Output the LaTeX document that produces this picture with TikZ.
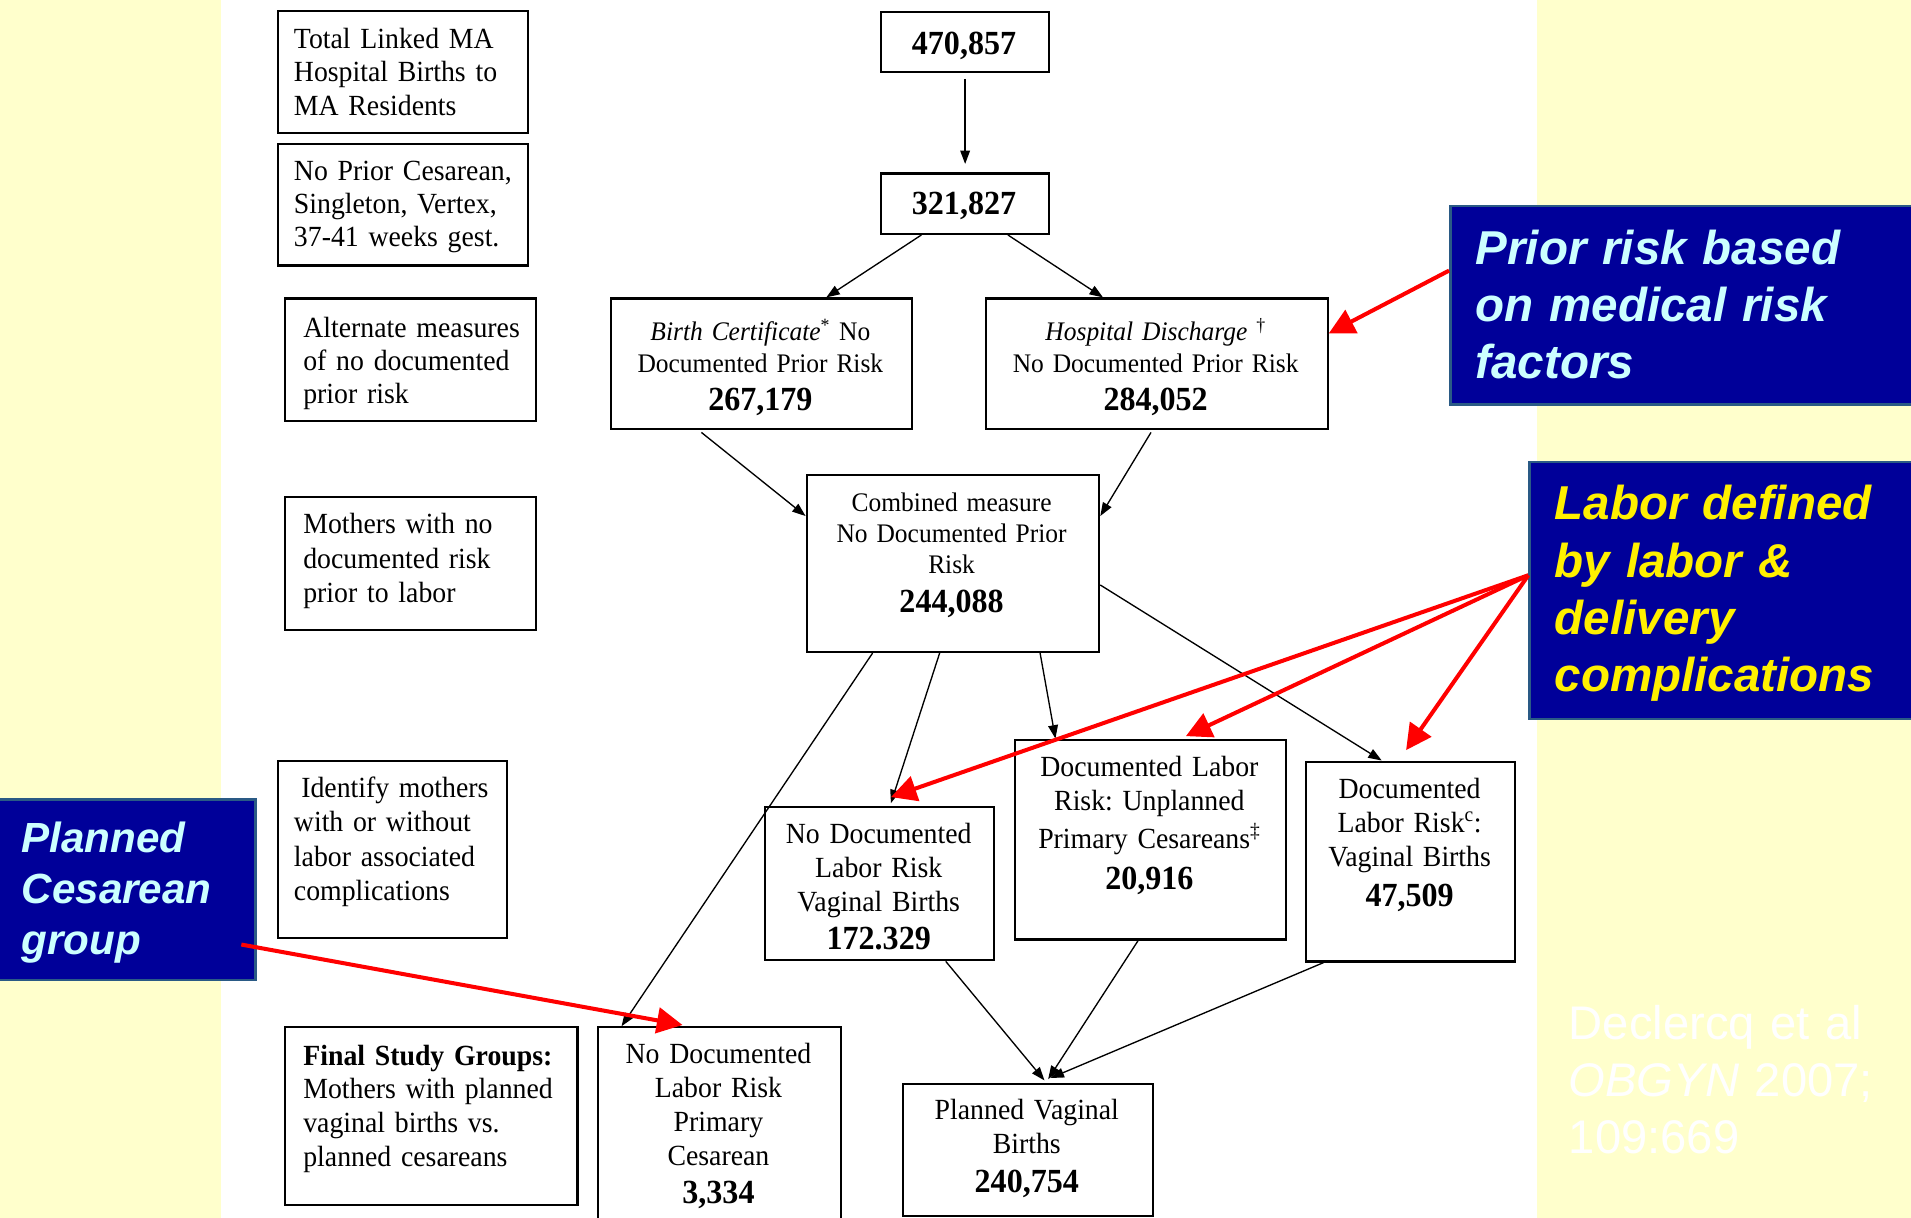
\documentclass[tikz,border=0pt]{standalone}
\usepackage{fontspec}
\setmainfont{Liberation Serif}[FakeStretch=0.95]
\newfontfamily\calloutfont{Liberation Sans}
\usetikzlibrary{arrows.meta}
\definecolor{bgyellow}{HTML}{FFFFCC}
\definecolor{navyfill}{HTML}{000099}
\definecolor{navyedge}{HTML}{2A5A85}
\definecolor{calcyan}{HTML}{CCFFFF}
\definecolor{calyellow}{HTML}{FFF000}
\newcommand\lefttxt{\fontsize{24}{27.7}\selectfont}
\newcommand\midtxt{\fontsize{22}{26.5}\selectfont}
\newcommand\combtxt{\fontsize{22}{25.7}\selectfont}
\newcommand\lowtxt{\fontsize{24}{27.9}\selectfont}
\newcommand\numtxt{\fontsize{27.7}{31}\selectfont\bfseries}
\newcommand\callA{\calloutfont\fontsize{39}{47}\selectfont\bfseries\itshape}
\newcommand\callB{\calloutfont\fontsize{34.6}{42}\selectfont\bfseries\itshape}
\newcommand\callC{\calloutfont\fontsize{38.7}{47}\selectfont}
\frenchspacing
\begin{document}
\begin{tikzpicture}[x=1pt,y=-1pt,
  box/.style={draw=black, line width=1.8pt, inner sep=0pt, anchor=north west, fill=white},
  navybox/.style={draw=navyedge, line width=2pt, fill=navyfill, inner sep=0pt, anchor=north west},
  ctext/.style={inner sep=0pt, anchor=base, text width=300pt, align=center},
  ltext/.style={inner sep=0pt, anchor=base west, text width=250pt, align=left},
  calltext/.style={inner sep=0pt, anchor=base west, text width=340pt, align=left},
  blk/.style={draw=black, line width=1.1pt, -{Triangle[length=11pt,width=8pt]}},
  redarr/.style={draw=red, line width=3.3pt, -{Triangle[length=21pt,width=21pt]}}
]
\useasboundingbox (0,0) rectangle (1568,999);
\clip (0,0) rectangle (1568,999);
\fill[bgyellow] (0,0) rectangle (181,999);
\fill[white] (181,0) rectangle (1261,999);
\fill[bgyellow] (1261,0) rectangle (1568,999);

% left description boxes
\node[box, minimum width=205pt, minimum height=100pt] (b1) at (227,8) {};
\node[ltext, font=\lefttxt] (t1) at (241,39.4) {Total Linked MA\\Hospital Births to\\MA Residents};
\node[box, minimum width=205pt, minimum height=100pt] (b2) at (227,117) {};
\node[ltext, font=\fontsize{24}{27.3}\selectfont] (t2) at (241,148) {No Prior Cesarean,\\Singleton, Vertex,\\37-41 weeks gest.};
\node[box, minimum width=206pt, minimum height=100.5pt] (b3) at (233,244) {};
\node[ltext, font=\fontsize{24}{27.4}\selectfont] (t3) at (248.7,276.6) {Alternate measures\\of no documented\\prior risk};
\node[box, minimum width=206pt, minimum height=109pt] (b4) at (233,407) {};
\node[ltext, font=\fontsize{24}{28.3}\selectfont] (t4) at (248.7,438) {Mothers with no\\documented risk\\prior to labor};
\node[box, minimum width=188pt, minimum height=145.4pt] (bid) at (227,623.4) {};
\node[ltext, font=\fontsize{24}{28.1}\selectfont] (tid) at (241,654.4) {\hspace{6pt}Identify mothers\\with or without\\labor associated\\complications};
\node[box, minimum width=240pt, minimum height=146pt] (bfin) at (233,842) {};
\node[ltext, font=\lefttxt] (tfin) at (248.7,874) {\textbf{Final Study Groups:}\\Mothers with planned\\vaginal births vs.\\planned cesareans};

% flow boxes
\node[box, minimum width=138pt, minimum height=49pt] (n470) at (722,9) {};
\node[ctext, font=\numtxt] (t470) at (791,45) {470,857};
\node[box, minimum width=138pt, minimum height=49.5pt] (n321) at (722,141.5) {};
\node[ctext, font=\numtxt] (t321) at (791,176.4) {321,827};
\node[box, minimum width=246.7pt, minimum height=107pt] (nbc) at (500.5,244) {};
\node[ctext, font=\midtxt] (tbc) at (623.9,279.3) {\textit{Birth Certificate}\textsuperscript{*} No\\Documented Prior Risk\\[4.4pt]{\numtxt 267,179}};
\node[box, minimum width=280.5pt, minimum height=107pt] (nhd) at (808,244) {};
\node[ctext, font=\midtxt] (thd) at (948.2,279.3) {\textit{Hospital Discharge} \textsuperscript{\textdagger}\\No Documented Prior Risk\\[4.4pt]{\numtxt 284,052}};
\node[box, minimum width=240pt, minimum height=145pt] (ncomb) at (661,389) {};
\node[ctext, font=\combtxt] (tcomb) at (780.8,419.5) {Combined measure\\No Documented Prior\\Risk\\[6.1pt]{\numtxt 244,088}};
\node[box, minimum width=188pt, minimum height=126pt] (nnv) at (627,661) {};
\node[ctext, font=\lowtxt] (tnv) at (721,691.7) {No Documented\\Labor Risk\\Vaginal Births\\[3.7pt]{\numtxt 172.329}};
\node[box, minimum width=222.5pt, minimum height=164pt] (ndu) at (832,606) {};
\node[ctext, font=\lowtxt] (tdu) at (943.1,637.2) {Documented Labor\\Risk: Unplanned\\[3.5pt]Primary Cesareans\textsuperscript{\textdaggerdbl}\\[5.1pt]{\numtxt 20,916}};
\node[box, minimum width=171pt, minimum height=164pt] (ndc) at (1071,624) {};
\node[ctext, font=\lowtxt] (tdc) at (1156.6,655.3) {Documented\\Labor Risk\textsuperscript{c}:\\Vaginal Births\\[4.4pt]{\numtxt 47,509}};
\node[box, minimum width=205pt, minimum height=108.5pt] (npv) at (740,888.5) {};
\node[ctext, font=\lowtxt] (tpv) at (842.5,918.7) {Planned Vaginal\\Births\\[3.6pt]{\numtxt 240,754}};
\node[box, minimum width=199pt, minimum height=175pt] (nnpc) at (490,842) {};
\node[ctext, font=\lowtxt] (tnpc) at (589.5,872.7) {No Documented\\Labor Risk\\Primary\\Cesarean\\[3.1pt]{\numtxt 3,334}};

% black connectors
\draw[blk] ([yshift=-5pt]n470.south) -- ([yshift=7pt]n321.north);
\draw[blk] ([xshift=34pt]n321.south west) -- ([xshift=177.5pt]nbc.north west);
\draw[blk] ([xshift=105pt]n321.south west) -- ([xshift=97pt]nhd.north west);
\draw[blk] ([xshift=75pt,yshift=-2pt]nbc.south west) -- ([yshift=-34.4pt]ncomb.north west);
\draw[blk] ([xshift=136.4pt,yshift=-2pt]nhd.south west) -- ([yshift=-34.4pt]ncomb.north east);
\draw[blk] ([xshift=55pt]ncomb.south west) -- ([xshift=20pt]nnpc.north west);
\draw[blk] ([xshift=110pt]ncomb.south west) -- ([xshift=104pt,yshift=2pt]nnv.north west);
\draw[blk] ([xshift=192.4pt]ncomb.south west) -- ([xshift=34pt]ndu.north west);
\draw[blk] ([yshift=-91pt]ncomb.north east) -- ([xshift=62.7pt]ndc.north west);
\draw[blk] ([xshift=149pt]nnv.south west) -- ([xshift=117pt,yshift=2pt]npv.north west);
\draw[blk] ([xshift=101.8pt]ndu.south west) -- ([xshift=120pt,yshift=3pt]npv.north west);
\draw[blk] ([xshift=15pt]ndc.south west) -- ([xshift=122pt,yshift=4pt]npv.north west);

% callouts
\node[navybox, minimum width=385pt, minimum height=163pt] (prior) at (1189,168) {};
\node[calltext, text=calcyan, font=\callA] (tprior) at (1210.6,216.8) {Prior risk based\\on medical risk\\factors};
\node[navybox, minimum width=320pt, minimum height=211pt] (labor) at (1254,378) {};
\node[calltext, text=calyellow, font=\callA] (tlabor) at (1275.5,426.6) {Labor defined\\by labor \&\\delivery\\complications};
\node[navybox, minimum width=212.5pt, minimum height=148pt] (plan) at (-4,655) {};
\node[calltext, text=calcyan, font=\callB] (tplan) at (17.6,699.4) {Planned\\Cesarean\\group};
\node[calltext, text=white, font=\callC] (tdec) at (1287,852.6) {Declercq et al\\\textit{OBGYN} 2007;\\109:669};

% red arrows
\draw[redarr] ([yshift=-54pt]prior.north west) -- ([yshift=-29.5pt]nhd.north east);
\draw[redarr] ([yshift=-94pt]labor.north west) -- ([xshift=104pt,yshift=7pt]nnv.north west);
\draw[redarr] ([yshift=-94pt]labor.north west) -- ([xshift=141pt,yshift=2pt]ndu.north west);
\draw[redarr] ([yshift=-94pt]labor.north west) -- ([xshift=82.7pt,yshift=8.5pt]ndc.north west);
\draw[redarr] ([xshift=-12.5pt,yshift=-120pt]plan.north east) -- ([xshift=70pt,yshift=1pt]nnpc.north west);
\end{tikzpicture}
\end{document}
